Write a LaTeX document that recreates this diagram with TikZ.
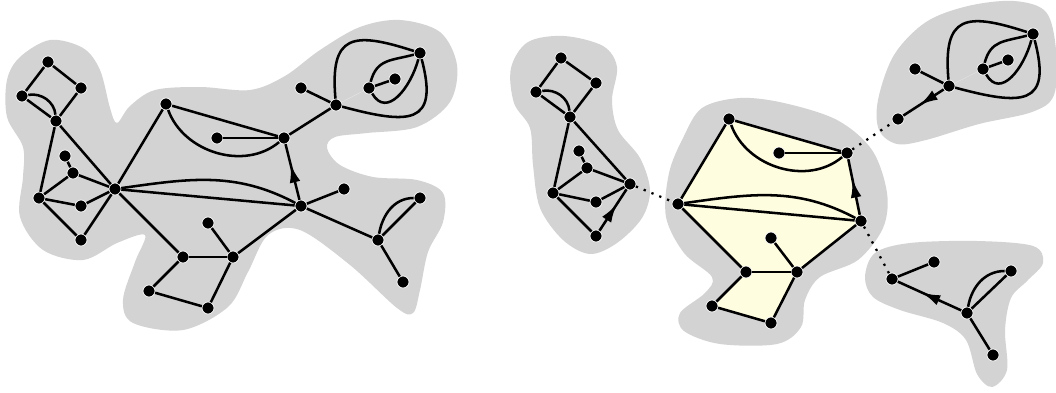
\documentclass[tikz,border=0pt]{standalone}
\usepackage{tikz}
\usetikzlibrary{arrows.meta,decorations.markings,backgrounds}
\definecolor{blobgray}{RGB}{211,211,211}
\definecolor{faceyellow}{RGB}{255,253,224}

\begin{document}
\begin{tikzpicture}[x=0.25mm, y=-0.25mm,
    vtx/.style={circle, fill=black, draw=white, line width=0.5pt, minimum size=3mm, inner sep=0pt},
    edg/.style={line width=1.8pt},
    arr/.style={edg, postaction={decorate}, decoration={markings, mark=at position #1 with {\arrow{Latex[length=4.6mm,width=2.7mm]}}}},
    arr/.default=0.64,
    cut/.style={line width=1.6pt, dash pattern=on 1.6pt off 4.4pt},
    faint/.style={draw=black!10, line width=0.3pt},
    blob/.style={fill=blobgray}
]
\useasboundingbox (0,0) rectangle (1056,392);

% grey regions
\begin{scope}[on background layer]
\fill[blob] plot[smooth cycle, tension=0.55] coordinates {
  (20,57) (50,40) (83,48) (100,70) (110,108) (117,123) (130,106) (155,90)
  (200,87) (250,90) (285,76) (320,50) (360,27) (400,20) (440,32) (457,65)
  (450,102) (417,127) (367,133) (335,137) (327,148) (340,165) (373,177)
  (417,180) (443,193) (443,222) (428,252) (420,290) (413,313) (397,308)
  (350,265) (300,230) (268,235) (248,272) (228,307) (183,330) (133,323)
  (123,300) (135,262) (145,235) (117,243) (83,260) (43,250) (20,217)
  (23,177) (23,147) (7,117) (7,80)};
\fill[blob] plot[smooth cycle, tension=0.55] coordinates {
  (528,42) (564,36) (603,46) (617,67) (612,100) (618,130) (640,158) (650,190)
  (642,218) (617,243) (590,254) (563,240) (540,208) (533,165) (530,128)
  (514,103) (511,68)};
\fill[blob] plot[smooth cycle, tension=0.55] coordinates {
  (702,108) (740,98) (784,103) (837,120) (872,150) (887,193) (883,228)
  (858,260) (820,277) (805,300) (801,327) (777,344) (720,344) (684,331)
  (680,313) (705,293) (712,277) (684,253) (666,217) (669,173) (683,138)};
\fill[blob] plot[smooth cycle, tension=0.55] coordinates {
  (894,55) (926,22) (968,6) (1014,1) (1046,12) (1056,50) (1054,95)
  (1032,112) (979,124) (926,140) (897,144) (879,130) (878,100)};
\fill[blob] plot[smooth cycle, tension=0.55] coordinates {
  (865,277) (875,253) (910,243) (977,241) (1033,246) (1043,263) (1027,281)
  (1011,298) (1005,330) (1007,370) (992,387) (977,374) (966,340) (943,323)
  (900,310) (873,297)};
\end{scope}

% left graph
\node[vtx] (La1) at (48,62) {};
\node[vtx] (La2) at (81,88) {};
\node[vtx] (La3) at (22,96) {};
\node[vtx] (La4) at (56,121) {};
\node[vtx] (La5) at (65,156) {};
\node[vtx] (La6) at (73,173) {};
\node[vtx] (La7) at (39,198) {};
\node[vtx] (La8) at (81,206) {};
\node[vtx] (La9) at (81,240) {};
\node[vtx] (Lc) at (115,189) {};
\node[vtx] (Lb1) at (166,104) {};
\node[vtx] (Le) at (217,138) {};
\node[vtx] (Ld) at (284,138) {};
\node[vtx] (Lf) at (301,206) {};
\node[vtx] (Lg) at (344,189) {};
\node[vtx] (Lh) at (378,240) {};
\node[vtx] (Lh1) at (420,198) {};
\node[vtx] (Lh2) at (403,282) {};
\node[vtx] (Li) at (233,257) {};
\node[vtx] (Lj) at (183,257) {};
\node[vtx] (Lk) at (208,223) {};
\node[vtx] (Ll) at (149,291) {};
\node[vtx] (Lm) at (208,308) {};
\node[vtx] (Ln) at (336,105) {};
\node[vtx] (Lo) at (301,88) {};
\node[vtx] (Lp) at (420,53) {};
\node[vtx] (Lq) at (369,88) {};
\node[vtx] (Lr) at (395,79) {};

\draw[edg] (La1) -- (La2);
\draw[edg] (La1) -- (La3);
\draw[edg] (La2) -- (La4);
\draw[edg] (La3) -- (La4);
\draw[edg] (La3) to[out=10,in=95] (La4);
\draw[edg] (La4) -- (La7);
\draw[edg] (La4) -- (Lc);
\draw[edg] (La5) -- (La6);
\draw[edg] (La6) -- (Lc);
\draw[edg] (La6) -- (La7);
\draw[edg] (La7) -- (La8);
\draw[edg] (La8) -- (Lc);
\draw[edg] (La7) -- (La9);
\draw[edg] (La9) -- (Lc);
\draw[edg] (Lc) -- (Lb1);
\draw[edg] (Lc) -- (Lf);
\draw[edg] (Lc) to[out=8,in=152] (Lf);
\draw[edg] (Lc) -- (Lj);
\draw[edg] (Lb1) -- (Ld);
\draw[edg] (Lb1) to[out=-70,in=-140] (Ld);
\draw[edg] (Le) -- (Ld);
\draw[arr] (Lf) -- (Ld);
\draw[edg] (Lf) -- (Lg);
\draw[edg] (Lf) -- (Lh);
\draw[edg] (Lf) -- (Li);
\draw[edg] (Lh) -- (Lh1);
\draw[edg] (Lh) to[out=80,in=180] (Lh1);
\draw[edg] (Lh) -- (Lh2);
\draw[edg] (Li) -- (Lj);
\draw[edg] (Li) -- (Lk);
\draw[edg] (Li) -- (Lm);
\draw[edg] (Lj) -- (Ll);
\draw[edg] (Ll) -- (Lm);
\draw[edg] (Ld) -- (Ln);
\draw[edg] (Ln) -- (Lo);
\draw[faint] (Ln) -- (Lq);
\draw[edg] (Ln) to[out=95,in=162,looseness=1.8] (Lp);
\draw[edg] (Ln) to[out=-15,in=-75,looseness=1.9] (Lp);
\draw[edg] (Lq) -- (Lr);
\draw[edg] (Lq) to[out=75,in=195,looseness=1.2] (Lp);
\draw[edg] (Lq) to[out=-60,in=-105,looseness=1.3] (Lp);

% right graph, split into blocks
\node[vtx] (Ra1) at (561,58) {};
\node[vtx] (Ra2) at (596,83) {};
\node[vtx] (Ra3) at (536,92) {};
\node[vtx] (Ra4) at (570,117) {};
\node[vtx] (Ra5) at (579,151) {};
\node[vtx] (Ra6) at (587,168) {};
\node[vtx] (Ra7) at (553,193) {};
\node[vtx] (Ra8) at (596,202) {};
\node[vtx] (Ra9) at (596,236) {};
\node[vtx] (Rc) at (630,184) {};
\node[vtx] (Rc2) at (678,204) {};
\node[vtx] (Rb1) at (729,119) {};
\node[vtx] (Re) at (779,153) {};
\node[vtx] (Rd) at (847,153) {};
\node[vtx] (Rf) at (861,221) {};
\node[vtx] (Rk) at (771,238) {};
\node[vtx] (Rj) at (746,272) {};
\node[vtx] (Ri) at (797,272) {};
\node[vtx] (Rl) at (712,306) {};
\node[vtx] (Rm) at (771,323) {};
\node[vtx] (Rn1) at (898,119) {};
\node[vtx] (Rn) at (949,86) {};
\node[vtx] (Ro) at (915,69) {};
\node[vtx] (Rp) at (1033,34) {};
\node[vtx] (Rq) at (983,69) {};
\node[vtx] (Rr) at (1008,60) {};
\node[vtx] (Rs) at (892,279) {};
\node[vtx] (Rt) at (934,262) {};
\node[vtx] (Ru) at (1011,271) {};
\node[vtx] (Rv) at (967,313) {};
\node[vtx] (Rw) at (993,355) {};

\begin{scope}[on background layer]
\fill[faceyellow] (Rb1.center) -- (Rd.center) -- (Rf.center) -- (Ri.center)
  -- (Rm.center) -- (Rl.center) -- (Rj.center) -- (Rc2.center) -- cycle;
\end{scope}

\draw[edg] (Ra1) -- (Ra2);
\draw[edg] (Ra1) -- (Ra3);
\draw[edg] (Ra2) -- (Ra4);
\draw[edg] (Ra3) -- (Ra4);
\draw[edg] (Ra3) to[out=10,in=95] (Ra4);
\draw[edg] (Ra4) -- (Ra7);
\draw[edg] (Ra4) -- (Rc);
\draw[edg] (Ra5) -- (Ra6);
\draw[edg] (Ra6) -- (Rc);
\draw[edg] (Ra6) -- (Ra7);
\draw[edg] (Ra7) -- (Ra8);
\draw[edg] (Ra8) -- (Rc);
\draw[edg] (Ra7) -- (Ra9);
\draw[arr] (Ra9) -- (Rc);
\draw[cut] (Rc) -- (Rc2);

\draw[edg] (Rc2) -- (Rb1);
\draw[edg] (Rc2) -- (Rf);
\draw[edg] (Rc2) to[out=8,in=152] (Rf);
\draw[edg] (Rc2) -- (Rj);
\draw[edg] (Rb1) -- (Rd);
\draw[edg] (Rb1) to[out=-70,in=-140] (Rd);
\draw[edg] (Re) -- (Rd);
\draw[arr] (Rf) -- (Rd);
\draw[edg] (Rf) -- (Ri);
\draw[edg] (Ri) -- (Rj);
\draw[edg] (Ri) -- (Rk);
\draw[edg] (Ri) -- (Rm);
\draw[edg] (Rj) -- (Rl);
\draw[edg] (Rl) -- (Rm);
\draw[cut] (Rd) -- (Rn1);
\draw[cut] (Rf) -- (Rs);

\draw[arr=0.6] (Rn) -- (Rn1);
\draw[edg] (Rn) -- (Ro);
\draw[faint] (Rn) -- (Rq);
\draw[edg] (Rn) to[out=95,in=162,looseness=1.8] (Rp);
\draw[edg] (Rn) to[out=-15,in=-75,looseness=1.9] (Rp);
\draw[edg] (Rq) -- (Rr);
\draw[edg] (Rq) to[out=75,in=195,looseness=1.2] (Rp);
\draw[edg] (Rq) to[out=-60,in=-105,looseness=1.3] (Rp);

\draw[edg] (Rs) -- (Rt);
\draw[arr=0.62] (Rv) -- (Rs);
\draw[edg] (Rv) -- (Ru);
\draw[edg] (Rv) to[out=80,in=180] (Ru);
\draw[edg] (Rv) -- (Rw);
\end{tikzpicture}
\end{document}
